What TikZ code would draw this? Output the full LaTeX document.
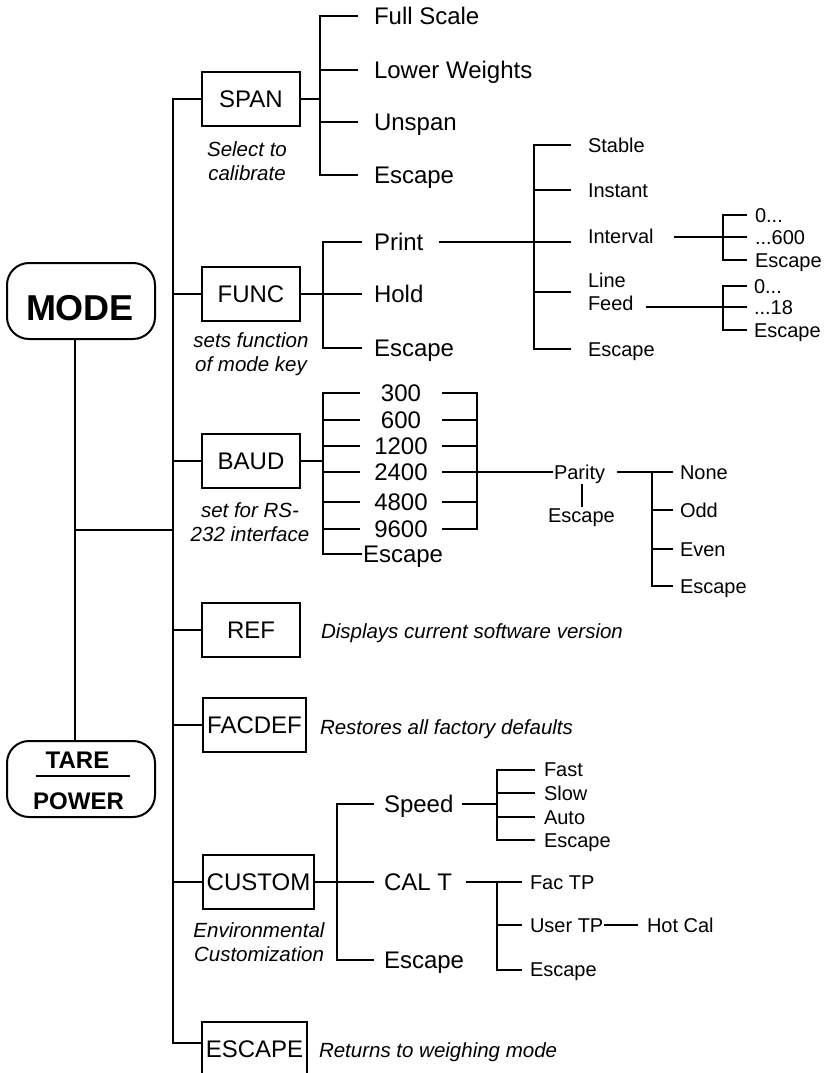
\documentclass[tikz,border=0pt]{standalone}
\usepackage{fontspec}
\setmainfont{Liberation Sans}
\usetikzlibrary{calc}

\tikzset{
  menubox/.style={draw, minimum width=98pt, minimum height=54pt, inner xsep=4pt, font=\fontsize{24}{24}\selectfont},
  keybox/.style={draw, rounded corners=22pt, minimum width=148pt, minimum height=76pt},
  keytext/.style={inner sep=0pt, font=\fontsize{24}{24}\selectfont\bfseries},
  biglbl/.style={anchor=west, inner sep=0pt, text height=17.2pt, text depth=0pt, font=\fontsize{24}{24}\selectfont},
  smalllbl/.style={anchor=west, inner sep=0pt, text height=14.3pt, text depth=0pt, font=\fontsize{20}{20}\selectfont},
  notecap/.style={align=center, inner sep=0pt, font=\fontsize{20.5}{24}\selectfont\itshape},
  noteline/.style={anchor=west, inner sep=0pt, text height=14.7pt, text depth=0pt, font=\fontsize{20.5}{24}\selectfont\itshape},
}

\begin{document}
\begin{tikzpicture}[x=1pt,y=-1pt,line width=2pt]
    \useasboundingbox (0,0) rectangle (827,1073);
    \clip (0,0) rectangle (827,1073);

    \node[keybox] (mode) at (81,301) {};
    \node[keytext, font=\fontsize{36}{36}\selectfont\bfseries] (modelbl) at (80,308) {MODE};
    \node[keybox] (tare) at (81,779) {};
    \node[keytext] (tarelbl) at (77.5,760.5) {TARE};
    \node[keytext] (powerlbl) at (78.5,801.5) {POWER};
    \draw[line width=1.5pt] (36,776) -- (130,776);

    \coordinate (sp) at (173,99);
    \coordinate (mt) at (75,530);
    \node[menubox] (span) at (251,99) {SPAN};
    \node[menubox] (func) at (251,294) {FUNC};
    \node[menubox] (baud) at (251,461) {BAUD};
    \node[menubox] (ref) at (251,630) {REF};
    \node[menubox] (facdef) at (254.5,725) {FACDEF};
    \node[menubox] (custom) at (258.5,882) {CUSTOM};
    \node[menubox] (escbox) at (254.5,1049) {ESCAPE};

    \draw ([xshift=-6pt]mode.south) -- ([xshift=-6pt]tare.north);
    \draw (mt) -- (mt -| sp);
    \draw (span.west) -- (sp) |- ([yshift=6pt]escbox.west);
    \foreach \b in {func,baud,ref,facdef,custom} {\draw (\b.west) -- (\b.west -| sp);}

    \node[notecap] (spannote) at (247,161) {Select to\\calibrate};
    \node[notecap] (funcnote) at (251,354) {sets function\\of mode key};
    \node[notecap] (baudnote) at (250,522) {set for RS-\\232 interface};
    \node[notecap] (custnote) at (259,942.5) {Environmental\\Customization};
    \node[noteline] (refnote) at (320,631) {Displays current software version};
    \node[noteline] (facnote) at (319,727) {Restores all factory defaults};
    \node[noteline] (escnote) at (318,1050) {Returns to weighing mode};

    % span
    \node[biglbl] (fullscale) at (373,16) {Full Scale};
    \node[biglbl] (lowerw) at (373,70) {Lower Weights};
    \node[biglbl] (unspan) at (373,122) {Unspan};
    \node[biglbl] (spanesc) at (373,175) {Escape};
    \coordinate (spanbar) at (320,99);
    \draw (span.east) -- (spanbar);
    \draw ([xshift=-15pt]fullscale.west) -| (spanbar |- spanesc.west) -- ([xshift=-15pt]spanesc.west);
    \foreach \n in {lowerw,unspan} {\draw (spanbar |- \n.west) -- ([xshift=-15pt]\n.west);}

    % func
    \node[biglbl] (print) at (373,242) {Print};
    \node[biglbl] (hold) at (373,294) {Hold};
    \node[biglbl] (funcesc) at (373,348) {Escape};
    \coordinate (funcbar) at (323,294);
    \draw (func.east) -- (funcbar);
    \draw ([xshift=-11pt]print.west) -| (funcbar |- funcesc.west) -- ([xshift=-11pt]funcesc.west);
    \draw (funcbar) -- ([xshift=-11pt]hold.west);

    \node[smalllbl] (stable) at (587,145) {Stable};
    \node[smalllbl] (instant) at (587,190) {Instant};
    \node[smalllbl] (interval) at (587,236) {Interval};
    \node[anchor=west, inner sep=0pt, align=left, font=\fontsize{20}{23}\selectfont] (linefeed) at (587,292) {Line\\Feed};
    \node[smalllbl] (printesc) at (587,349) {Escape};
    \coordinate (printbar) at (534,242);
    \draw ([xshift=15pt]print.east) -- ($(interval.west |- print.east)+(-16,0)$);
    \draw ([xshift=-16pt]stable.west) -| (printbar |- printesc.west) -- ([xshift=-16pt]printesc.west);
    \foreach \n in {instant,linefeed} {\draw (printbar |- \n.west) -- ([xshift=-16pt]\n.west);}

    \node[smalllbl] (int0) at (754,215) {0...};
    \node[smalllbl] (int600) at (754,237) {...600};
    \node[smalllbl] (intesc) at (754,260) {Escape};
    \coordinate (intbar) at (723,237);
    \draw ($(interval.east |- intbar)+(19,0)$) -- (intbar);
    \draw ([xshift=-7pt]int0.west) -| (intbar |- intesc.west) -- ([xshift=-7pt]intesc.west);
    \draw (intbar) -- ([xshift=-7pt]int600.west);

    \node[smalllbl] (lf0) at (753,286) {0...};
    \node[smalllbl] (lf18) at (753,307) {...18};
    \node[smalllbl] (lfesc) at (753,330) {Escape};
    \coordinate (lfbar) at (723,307);
    \draw ($(linefeed.east |- lfbar)+(11,0)$) -- (lfbar);
    \draw ([xshift=-6pt]lf0.west) -| (lfbar |- lfesc.west) -- ([xshift=-6pt]lfesc.west);
    \draw (lfbar) -- ([xshift=-6pt]lf18.west);

    % baud
    \coordinate (bl) at (323,461);
    \coordinate (br) at (477,472);
    \foreach \v/\y in {300/393,600/420,1200/446,2400/472,4800/502,9600/529}
        {\node[biglbl, anchor=center, minimum width=80pt] (n\v) at (401,\y) {\v};}
    \node[biglbl] (baudesc) at (362,554) {Escape};
    \draw (baud.east) -- (bl);
    \draw (n300.west) -| (bl |- baudesc.west) -- (baudesc.west);
    \foreach \v in {600,1200,2400,4800,9600} {\draw (bl |- n\v.west) -- (n\v.west);}
    \draw (n300.east) -| (br |- n9600.east) -- (n9600.east);
    \foreach \v in {600,1200,2400,4800} {\draw (n\v.east) -- (br |- n\v.east);}

    \node[smalllbl] (parity) at (553,472) {Parity};
    \node[smalllbl, anchor=center] (parityesc) at (581.5,515.5) {Escape};
    \draw (br |- parity.west) -- (parity.west);
    \draw (parityesc.north) -- ($(parityesc.north |- parity.south)+(0,4)$);
    \node[smalllbl] (parnone) at (679,472) {None};
    \node[smalllbl] (parodd) at (679,510) {Odd};
    \node[smalllbl] (pareven) at (679,549) {Even};
    \node[smalllbl] (paresc) at (679,586) {Escape};
    \coordinate (pbar) at (652,472);
    \draw ([xshift=11pt]parity.east) -- ([xshift=-6pt]parnone.west);
    \draw (pbar) |- ([xshift=-6pt]paresc.west);
    \foreach \n in {parodd,pareven} {\draw (pbar |- \n.west) -- ([xshift=-6pt]\n.west);}

    % custom
    \node[biglbl] (speed) at (383,804) {Speed};
    \node[biglbl] (calt) at (383,882) {CAL T};
    \node[biglbl] (custesc) at (383,960) {Escape};
    \coordinate (custbar) at (337,882);
    \draw (custom.east) -- (custbar);
    \draw ([xshift=-9pt]speed.west) -| (custbar |- custesc.west) -- ([xshift=-9pt]custesc.west);
    \draw (custbar) -- ([xshift=-9pt]calt.west);

    \node[smalllbl] (spdfast) at (543,769.5) {Fast};
    \node[smalllbl] (spdslow) at (543,793) {Slow};
    \node[smalllbl] (spdauto) at (543,817) {Auto};
    \node[smalllbl] (spdesc) at (543,840) {Escape};
    \coordinate (speedbar) at (497,804);
    \draw ([xshift=8pt]speed.east) -- (speedbar);
    \draw ([xshift=-8pt]spdfast.west) -| (speedbar |- spdesc.west) -- ([xshift=-8pt]spdesc.west);
    \foreach \n in {spdslow,spdauto} {\draw (speedbar |- \n.west) -- ([xshift=-8pt]\n.west);}

    \node[smalllbl] (factp) at (529,882) {Fac TP};
    \node[smalllbl] (usertp) at (529,925) {User TP};
    \node[smalllbl] (calesc) at (529,969.5) {Escape};
    \node[smalllbl] (hotcal) at (646,925) {Hot Cal};
    \coordinate (calbar) at (497,882);
    \draw ([xshift=13pt]calt.east) -- ([xshift=-7pt]factp.west);
    \draw (calbar) |- ([xshift=-7pt]calesc.west);
    \draw (calbar |- usertp.west) -- ([xshift=-7pt]usertp.west);
    \draw (usertp.east) -- ([xshift=-8pt]hotcal.west);
\end{tikzpicture}
\end{document}
